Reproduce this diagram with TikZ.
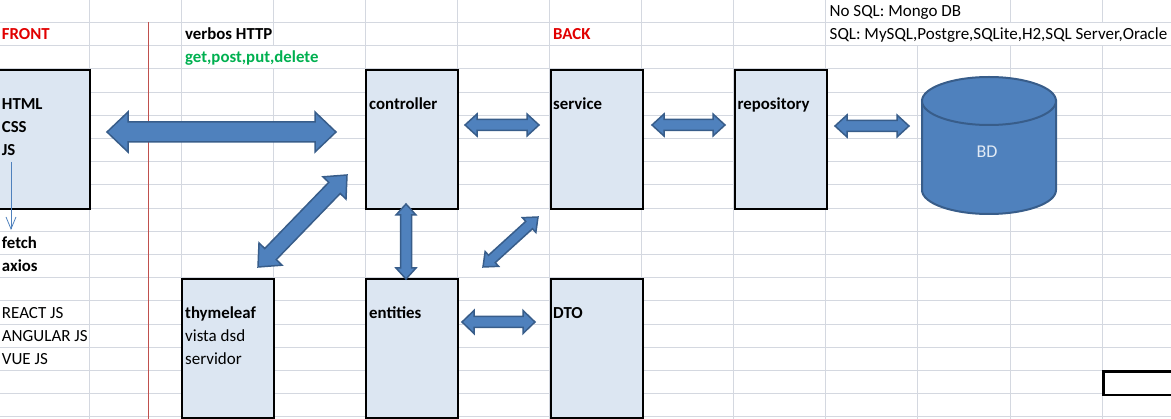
\documentclass[tikz,border=0pt]{standalone}
\usepackage{fontspec}
\setmainfont{Carlito}
\usetikzlibrary{calc,arrows.meta}
\definecolor{gridc}{RGB}{212,216,224}
\definecolor{boxfill}{RGB}{220,230,242}
\definecolor{arrfill}{RGB}{79,129,189}
\definecolor{arrline}{RGB}{56,93,138}
\definecolor{redtxt}{RGB}{225,0,0}
\definecolor{greentxt}{RGB}{0,176,80}
\definecolor{redline}{RGB}{192,80,77}
\definecolor{bdtxt}{RGB}{225,234,245}
\tikzset{
  gridline/.style={draw=gridc, line width=1pt},
  cellbox/.style={draw=black, fill=boxfill, line width=2pt, rectangle, inner sep=0pt, anchor=north west, minimum width=92.1pt, minimum height=139.2pt},
  blockarrow/.style={fill=arrfill, draw=arrline, line width=1.5pt, line join=miter},
  txt/.style={anchor=base west, inner sep=0pt, font=\fontsize{17}{20}\selectfont},
  btxt/.style={txt, font=\fontsize{16.8}{20}\selectfont\bfseries},
}
\newcommand{\blkarrow}[5]{%
  \coordinate (tmpA) at ($(#1)!#5!(#2)$);
  \coordinate (tmpB) at ($(#2)!#5!(#1)$);
  \filldraw[blockarrow] (#1) -- ($(tmpA)!#4!90:(#2)$) -- ($(tmpA)!#3!90:(#2)$) -- ($(tmpB)!#3!-90:(#1)$) -- ($(tmpB)!#4!-90:(#1)$) -- (#2) -- ($(tmpB)!#4!90:(#1)$) -- ($(tmpB)!#3!90:(#1)$) -- ($(tmpA)!#3!-90:(#2)$) -- ($(tmpA)!#4!-90:(#2)$) -- cycle;}
\begin{document}
\begin{tikzpicture}[x=1pt, y=-1pt]
\useasboundingbox (0,0) rectangle (1171,419);
\clip (0,0) rectangle (1171,419);
% grid
\foreach \j in {0,...,11} \draw[gridline] ({89+92.1*\j},-2) -- ({89+92.1*\j},421);
\fill[white] (914,-2) rectangle (922,45.7);
\fill[white] (1006,22.5) rectangle (1014,45.7);
\fill[white] (1098,22.5) rectangle (1106,45.7);
\fill[white] (269,45.7) rectangle (277,68.9);
\foreach \k in {1,...,18} \draw[gridline] (-2,{-0.7+23.2*\k}) -- (1173,{-0.7+23.2*\k});
% red line
\draw[redline, line width=0.8pt] (148,22) -- (148,421);
% boxes
\node[cellbox, minimum width=93pt] (front) at (-4,68.9) {};
\node[cellbox] (controller) at (365.3,68.9) {};
\node[cellbox] (service) at (549.5,68.9) {};
\node[cellbox] (repository) at (733.7,68.9) {};
\node[cellbox] (thymeleaf) at (181.1,277.7) {};
\node[cellbox] (entities) at (365.3,277.7) {};
\node[cellbox] (dto) at (549.5,277.7) {};
\node[cellbox, fill=white, line width=2.5pt, minimum width=80pt, minimum height=23.2pt] (selcell) at (1102.1,370.5) {};
% database cylinder
\draw[blockarrow, line width=2pt] (922,101) -- (922,190) arc[start angle=180, end angle=360, x radius=67pt, y radius=24pt] -- (1056,101) -- cycle;
\draw[blockarrow, line width=2pt] (989,101) ellipse[x radius=67pt, y radius=24pt];
\node[txt, anchor=center, text=bdtxt, font=\fontsize{18}{20}\selectfont] (bd) at (987,152) {BD};
% arrow end points
\coordinate (a1l) at (107,132); \coordinate (a1r) at (336,132);
\coordinate (a2l) at (465,125); \coordinate (a2r) at (539,125);
\coordinate (a3l) at (652,125); \coordinate (a3r) at (725,125);
\coordinate (a4l) at (835,126); \coordinate (a4r) at (909,126);
\coordinate (a5l) at (462,322); \coordinate (a5r) at (535,322);
\coordinate (a6t) at (406,204); \coordinate (a6b) at (406,279);
\coordinate (a7a) at (258,267); \coordinate (a7b) at (347,175);
\coordinate (a8a) at (483,267); \coordinate (a8b) at (538,217);
\blkarrow{a1l}{a1r}{10pt}{20pt}{21pt}
\blkarrow{a2l}{a2r}{5.5pt}{11pt}{12pt}
\blkarrow{a3l}{a3r}{5.5pt}{11pt}{12pt}
\blkarrow{a4l}{a4r}{5.5pt}{11pt}{12pt}
\blkarrow{a5l}{a5r}{5.5pt}{11.5pt}{12pt}
\blkarrow{a6t}{a6b}{5.5pt}{10pt}{11pt}
\blkarrow{a7a}{a7b}{8pt}{16pt}{18pt}
\blkarrow{a8a}{a8b}{5pt}{10pt}{12pt}
% thin arrow
\coordinate (js0) at (11,162); \coordinate (js1) at (11,230);
\draw[arrfill, line width=0.8pt, -{Straight Barb[length=12pt, width=10pt, line width=0.8pt]}] (js0) -- (js1);
% texts
\node[txt] (nosql) at (829.5,16.5) {No SQL: Mongo DB};
\node[txt] (sql) at (829.5,39.7) {SQL: MySQL,Postgre,SQLite,H2,SQL Server,Oracle};
\node[btxt, text=redtxt] (tfront) at (1.7,39.7) {FRONT};
\node[btxt] (verbos) at (185,39.7) {verbos HTTP};
\node[btxt, text=redtxt] (tback) at (553,39.7) {BACK};
\node[btxt, text=greentxt] (gpp) at (185,62.9) {get,post,put,delete};
\node[btxt] (thtml) at (1.7,109.3) {HTML};
\node[btxt] (tcss) at (1.7,132.5) {CSS};
\node[btxt] (tjs) at (1.7,155.7) {JS};
\node[btxt] (tcontroller) at (369,109.3) {controller};
\node[btxt] (tservice) at (553,109.3) {service};
\node[btxt] (trepository) at (737.5,109.3) {repository};
\node[btxt] (tfetch) at (1.7,248.5) {fetch};
\node[btxt] (taxios) at (1.7,271.7) {axios};
\node[txt] (treact) at (1.7,318.1) {REACT JS};
\node[txt] (tangular) at (1.7,341.3) {ANGULAR JS};
\node[txt] (tvue) at (1.7,364.5) {VUE JS};
\node[btxt] (tthyme) at (185,318.1) {thymeleaf};
\node[txt] (tvista) at (185,341.3) {vista dsd};
\node[txt] (tserv) at (185,364.5) {servidor};
\node[btxt] (tentities) at (369,318.1) {entities};
\node[btxt] (tdto) at (553,318.1) {DTO};
\end{tikzpicture}
\end{document}
